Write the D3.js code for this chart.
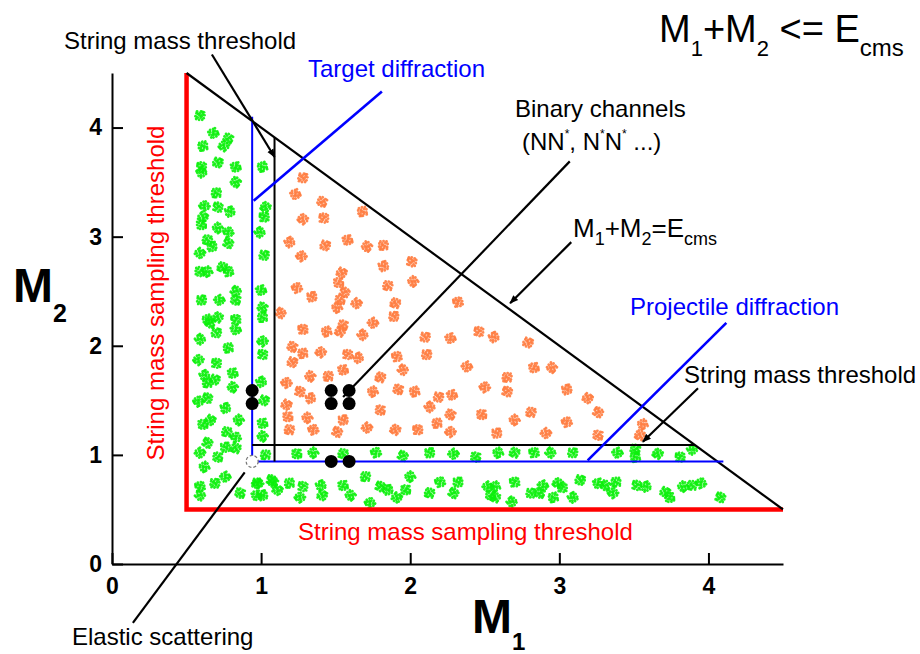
<!DOCTYPE html>
<html>
<head>
<meta charset="utf-8">
<script src="https://cdn.jsdelivr.net/npm/d3@7"></script>
<style>
  html, body { margin: 0; padding: 0; background: #fff; }
  svg { display: block; font-family: "Liberation Sans", Arial, sans-serif; }
</style>
</head>
<body>
<svg id="chart" width="920" height="654"></svg>
<script>
// ---------------- DATA ----------------
const xTickValues = [0, 1, 2, 3, 4];
const yTickValues = [0, 1, 2, 3, 4];
const axisMax = 4.5;
const samplingThreshold = 0.5;   // red lines
const Ecms = 5.0;                // M1 + M2 = Ecms
const nucleonMass = 0.94;        // blue diffraction lines
const stringThreshold = 1.09;    // black threshold lines
const diffractionMax = 4.1;

// resonance points (black dots)
const resonanceDots = [
  [0.94, 1.47], [0.94, 1.59],
  [1.47, 1.47], [1.47, 1.59], [1.59, 1.47], [1.59, 1.59],
  [1.47, 0.94], [1.59, 0.94]
];
const elasticPoint = [0.94, 0.94];

// green sampled points (diffraction regions)
const greenPoints = [
  [0.59,4.11],[0.68,3.95],[0.78,3.90],[0.61,3.83],[0.75,3.83],[0.60,3.64],[0.60,3.59],[0.71,3.68],
  [0.83,3.64],[0.83,3.50],[0.70,3.40],[0.62,3.28],[0.71,3.27],[0.79,3.23],[0.61,3.18],[0.60,3.11],
  [0.71,3.08],[0.64,2.97],[0.78,3.04],[0.78,2.94],[0.67,2.91],[0.59,2.85],[0.59,2.68],[0.64,2.68],
  [0.74,2.72],[0.78,2.68],[0.83,2.50],[0.60,2.42],[0.72,2.42],[0.83,2.42],[0.64,2.24],[0.71,2.26],
  [0.83,2.24],[0.59,2.06],[0.70,2.12],[0.83,2.15],[0.66,2.21],[0.78,1.98],[0.58,1.87],[0.70,1.84],
  [0.62,1.73],[0.69,1.69],[0.81,1.75],[0.81,1.62],[0.64,1.66],[0.58,1.49],[0.64,1.52],[0.76,1.43],
  [0.66,1.32],[0.61,1.28],[0.85,1.32],[0.77,1.21],[0.83,1.16],[0.64,1.11],[0.76,1.07],[0.59,1.02],
  [0.71,0.98],[0.62,0.89],[0.83,1.06],[0.59,0.71],[0.59,0.63],[0.69,0.74],[0.76,0.80],[0.86,0.65],
  [1.01,3.64],[1.03,3.27],[1.02,3.18],[0.99,3.04],[1.02,2.83],[1.00,2.51],[1.01,2.35],[1.01,2.26],
  [1.01,2.04],[1.01,1.92],[1.00,1.67],[1.02,1.50],[1.01,1.29],[1.01,1.17],[1.03,1.00],
  [0.98,0.74],[1.07,0.77],[1.01,0.63],[1.11,0.68],
  [1.24,1.01],[1.35,1.02],[1.55,1.01],[1.77,1.02],[1.95,0.99],[2.13,1.02],[2.29,1.01],[2.44,0.98],
  [2.59,1.02],[2.70,1.02],[2.83,1.02],[2.94,1.02],[3.09,1.02],[3.39,1.02],[3.51,1.05],[3.51,0.98],
  [3.66,1.01],[3.81,0.98],[3.89,1.05],
  [0.97,0.74],[0.97,0.63],[1.08,0.75],[1.19,0.74],[1.26,0.61],[1.28,0.71],[1.40,0.72],[1.41,0.63],
  [1.55,0.72],[1.60,0.63],[1.70,0.80],[1.73,0.56],[1.80,0.71],[1.85,0.68],[1.91,0.61],[1.97,0.68],
  [2.00,0.80],[2.13,0.65],[2.20,0.75],[2.29,0.65],[2.32,0.75],[2.52,0.71],[2.54,0.63],
  [2.57,0.71],[2.57,0.61],[2.70,0.75],[2.68,0.57],[2.81,0.65],[2.89,0.72],[2.87,0.65],[2.96,0.61],
  [2.99,0.74],[3.02,0.70],[3.09,0.61],[3.14,0.77],[3.26,0.74],[3.31,0.72],[3.38,0.75],[3.36,0.65],
  [3.52,0.72],[3.58,0.71],[3.71,0.66],[3.74,0.61],[3.83,0.71],[3.89,0.72],[3.95,0.74],[4.08,0.61]
];

// orange sampled points (binary string region)
const orangePoints = [
  [1.28,3.54],[1.23,3.39],[1.41,3.32],[1.68,3.23],[1.28,3.16],[1.42,3.17],[1.19,2.95],[1.43,2.92],
  [1.58,2.97],[1.71,2.91],[1.82,2.92],[1.27,2.82],[2.01,2.77],[1.82,2.73],[1.54,2.67],[1.52,2.58],
  [2.02,2.59],[1.85,2.55],[1.24,2.53],[1.56,2.49],[1.34,2.45],[1.64,2.39],[1.53,2.42],[1.51,2.35],
  [1.90,2.39],[2.32,2.40],[1.13,2.30],[1.89,2.27],[1.75,2.21],[1.55,2.19],[1.44,2.13],[1.53,2.13],
  [1.28,2.15],[1.68,2.10],[2.10,2.08],[2.27,2.07],
  [1.21,1.99],[1.28,1.93],[1.40,1.94],[1.58,1.92],[1.65,1.89],[1.21,1.85],[1.55,1.78],[1.33,1.72],
  [1.45,1.72],[1.17,1.66],[1.26,1.58],[1.33,1.52],[1.17,1.46],[1.18,1.35],[1.31,1.34],[1.19,1.23],
  [1.35,1.23],[1.51,1.21],[1.55,1.32],[1.71,1.25],[1.80,1.41],[1.75,1.58],[1.80,1.71],[1.91,1.90],
  [1.95,1.78],[2.11,1.92],[2.38,1.81],[1.92,1.60],[2.03,1.58],[1.90,1.23],[2.05,1.23],[2.13,1.44],
  [2.19,1.53],[2.28,1.55],[2.27,1.37],[2.18,1.29],[2.27,1.21],
  [2.46,2.13],[2.56,2.08],[2.79,2.03],[2.83,1.80],[2.95,1.80],[2.65,1.71],[2.50,1.62],[2.65,1.58],
  [3.05,1.60],[3.19,1.52],[2.48,1.37],[2.70,1.32],[2.81,1.39],[3.05,1.30],[3.26,1.39],[2.58,1.20],
  [2.91,1.20],[3.26,1.18],[3.56,1.28],[3.54,1.18]
];

// annotation leader lines, in data units
const leaders = [
  { from: [0.67, 4.67], to: [1.09, 3.73], color: "#000", arrow: true },     // String mass threshold (top)
  { from: [0.95, 3.33], to: [1.81, 4.33], color: "#0000ff", arrow: false }, // Target diffraction
  { from: [3.07, 3.69], to: [1.55, 1.53], color: "#000", arrow: false },    // Binary channels
  { from: [3.08, 2.95], to: [2.67, 2.39], color: "#000", arrow: true },     // M1+M2=Ecms
  { from: [3.19, 0.95], to: [4.12, 2.21], color: "#0000ff", arrow: false }, // Projectile diffraction
  { from: [3.93, 1.61], to: [3.56, 1.12], color: "#000", arrow: true },     // String mass threshold (right)
  { from: [0.14, -0.54], to: [0.89, 0.84], color: "#000", arrow: false }    // Elastic scattering
];

// ---------------- CHART ----------------
const svg = d3.select("#chart");
const x = d3.scaleLinear().domain([0, axisMax]).range([112, 783]);
const y = d3.scaleLinear().domain([0, axisMax]).range([564, 73]);

const defs = svg.append("defs");
defs.append("marker")
  .attr("id", "arrow").attr("viewBox", "0 0 10 10")
  .attr("refX", 9).attr("refY", 5)
  .attr("markerWidth", 4).attr("markerHeight", 4)
  .attr("orient", "auto")
  .append("path").attr("d", "M0,1 L10,5 L0,9 Z").attr("fill", "#000");

// axes
const xAxis = d3.axisBottom(x).tickValues(xTickValues).tickSizeInner(-11).tickSizeOuter(0).tickPadding(14).tickFormat(d3.format("d"));
const yAxis = d3.axisLeft(y).tickValues(yTickValues).tickSizeInner(-11).tickSizeOuter(0).tickPadding(10).tickFormat(d3.format("d"));
const gx = svg.append("g").attr("transform", `translate(0,${y(0)})`).call(xAxis);
const gy = svg.append("g").attr("transform", `translate(${x(0)},0)`).call(yAxis);
[gx, gy].forEach(g => {
  g.attr("font-size", 23).attr("font-family", "'Liberation Sans', Arial, sans-serif").attr("font-weight", "bold");
  g.select(".domain").attr("stroke", "#000").attr("stroke-width", 2);
  g.selectAll(".tick line").attr("stroke", "#000").attr("stroke-width", 2);
  g.selectAll(".tick text").attr("fill", "#000")
    .attr("font-size", 23).attr("font-weight", "bold")
    .style("font-size", "23px").style("font-weight", "bold");
});

// splat glyph pattern (styling only)
const splatPattern = [[0,0],[2.6,-1.3],[-2.4,2.0],[3.6,2.6],[-3.4,-2.3],[1.1,-4.0],[-0.9,4.2],[4.4,-0.4],
                      [-4.4,0.7],[0.7,2.1],[-1.6,-1.0],[2.2,4.3],[-2.9,-4.1],[4.0,-3.2],[-3.8,3.4],
                      [1.6,0.6],[-0.4,-2.4],[2.6,-3.6]];
function drawSplats(points, color, cls) {
  const g = svg.append("g").attr("class", cls);
  const s = g.selectAll("g").data(points).join("g")
    .attr("transform", (d, i) => `translate(${x(d[0])},${y(d[1])}) rotate(${(i * 53) % 360})`);
  s.selectAll("circle").data(splatPattern).join("circle")
    .attr("cx", p => p[0]).attr("cy", p => p[1]).attr("r", 1.45)
    .attr("fill", color).attr("opacity", 0.9);
}
drawSplats(greenPoints, "#0bf00b", "green");
drawSplats(orangePoints, "#ff7b3e", "orange");

const line = d3.line().x(d => x(d[0])).y(d => y(d[1]));

// red sampling thresholds
svg.append("path")
  .attr("d", line([[samplingThreshold, axisMax], [samplingThreshold, samplingThreshold], [axisMax, samplingThreshold]]))
  .attr("fill", "none").attr("stroke", "#ff0000").attr("stroke-width", 4.5);

// kinematic limit M1+M2=Ecms
svg.append("path")
  .attr("d", line([[samplingThreshold, Ecms - samplingThreshold], [Ecms - samplingThreshold, samplingThreshold]]))
  .attr("fill", "none").attr("stroke", "#000").attr("stroke-width", 2.2);

// blue diffraction lines
svg.append("path")
  .attr("d", line([[nucleonMass, diffractionMax], [nucleonMass, nucleonMass], [diffractionMax, nucleonMass]]))
  .attr("fill", "none").attr("stroke", "#0000ff").attr("stroke-width", 2);

// black string thresholds
svg.append("path")
  .attr("d", line([[stringThreshold, nucleonMass], [stringThreshold, Ecms - stringThreshold]]))
  .attr("fill", "none").attr("stroke", "#000").attr("stroke-width", 2);
svg.append("path")
  .attr("d", line([[nucleonMass, stringThreshold], [Ecms - stringThreshold, stringThreshold]]))
  .attr("fill", "none").attr("stroke", "#000").attr("stroke-width", 2);

// leader lines
svg.append("g").selectAll("path").data(leaders).join("path")
  .attr("d", d => line([d.from, d.to]))
  .attr("fill", "none").attr("stroke", d => d.color)
  .attr("stroke-width", d => d.color === "#000" ? 2.2 : 2.6)
  .attr("marker-end", d => d.arrow ? "url(#arrow)" : null);

// resonance dots
svg.append("g").selectAll("circle").data(resonanceDots).join("circle")
  .attr("cx", d => x(d[0])).attr("cy", d => y(d[1])).attr("r", 6.5).attr("fill", "#000");

// elastic point (dashed open circle)
svg.append("circle")
  .attr("cx", x(elasticPoint[0])).attr("cy", y(elasticPoint[1])).attr("r", 6)
  .attr("fill", "#fff").attr("stroke", "#777").attr("stroke-width", 1.2).attr("stroke-dasharray", "3,2");

// ---------------- TEXT ----------------
function label(xp, yp, color, size, parts, opts = {}) {
  const t = svg.append("text").attr("x", xp).attr("y", yp).attr("fill", color)
    .style("font-size", size + "px");
  if (opts.weight) t.style("font-weight", opts.weight);
  if (opts.anchor) t.attr("text-anchor", opts.anchor);
  if (opts.transform) t.attr("transform", opts.transform);
  parts.forEach(p => {
    if (typeof p === "string") { t.append("tspan").text(p); }
    else {
      const ts = t.append("tspan").text(p.t).style("font-size", p.size + "px");
      if (p.dy) ts.attr("dy", p.dy);
    }
  });
  return t;
}

// top right formula
label(659, 42, "#000", 38, [
  "M", { t: "1", size: 22, dy: 14 }, { t: "+M", size: 38, dy: -14 }, { t: "2", size: 22, dy: 14 },
  { t: " <= E", size: 38, dy: -14 }, { t: "cms", size: 24, dy: 14 }
]);

label(64, 49, "#000", 24, ["String mass threshold"]);
label(308, 77, "#0000ff", 24, ["Target diffraction"]);
label(515, 117, "#000", 24, ["Binary channels"]);
label(522, 150, "#000", 24, [
  "(NN", { t: "*", size: 12, dy: -12 }, { t: ", N", size: 24, dy: 12 }, { t: "*", size: 12, dy: -12 },
  { t: "N", size: 24, dy: 12 }, { t: "*", size: 12, dy: -12 }, { t: " ...)", size: 24, dy: 12 }
]);
label(573, 237, "#000", 26, [
  "M", { t: "1", size: 18, dy: 8 }, { t: "+M", size: 26, dy: -8 }, { t: "2", size: 18, dy: 8 },
  { t: "=E", size: 26, dy: -8 }, { t: "cms", size: 18, dy: 8 }
]);
label(630, 315, "#0000ff", 24, ["Projectile diffraction"]);
label(684, 383, "#000", 24, ["String mass threshold"]);
label(298, 540, "#ff0000", 24, ["String mass sampling threshold"]);
label(164, 293, "#ff0000", 24, ["String mass sampling threshold"], { anchor: "middle", transform: "rotate(-90,164,293)" });
label(72, 645, "#000", 24, ["Elastic scattering"]);

// axis titles
label(13, 302, "#000", 48, ["M", { t: "2", size: 25, dy: 20 }], { weight: "bold" });
label(472, 633, "#000", 48, ["M", { t: "1", size: 24, dy: 17 }], { weight: "bold" });
</script>
</body>
</html>
